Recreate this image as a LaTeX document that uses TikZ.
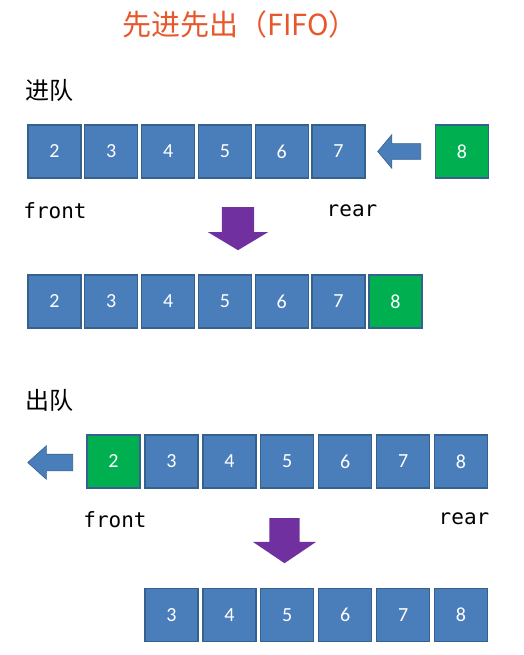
\documentclass[tikz,border=0pt]{standalone}
\usepackage{fontspec}
\setmainfont{Carlito}
\setmonofont{DejaVu Sans Mono}
\newfontfamily\cjk{Noto Sans CJK SC}
\usetikzlibrary{shapes.arrows, positioning}

\definecolor{cellblue}{HTML}{4A7EBB}
\definecolor{celledge}{HTML}{35618F}
\definecolor{cellgreen}{HTML}{00B050}
\definecolor{movepurple}{HTML}{7030A0}
\definecolor{titlered}{HTML}{E8572B}

\begin{document}
\begin{tikzpicture}[
    x=1pt, y=-1pt,
    cell/.style ={draw=celledge, line width=1.3pt, fill=cellblue,
                  minimum size=53pt, inner sep=0pt, text=white,
                  font=\fontsize{20}{20}\selectfont},
    hot/.style  ={cell, fill=cellgreen},
    push/.style ={single arrow, draw=celledge, line width=0.6pt, fill=cellblue,
                  inner xsep=0pt, rotate=180, anchor=tail},
    drop/.style ={single arrow, fill=movepurple, inner xsep=0pt, rotate=-90,
                  anchor=tail},
    tag/.style  ={font=\ttfamily\fontsize{21}{21}\selectfont, inner sep=0pt},
    heading/.style={font=\cjk\fontsize{24}{24}\selectfont, inner sep=0pt}
  ]
  \useasboundingbox (0,0) rectangle (524,655);

  % ---- title ---------------------------------------------------------
  \node[font=\cjk\fontsize{29}{29}\selectfont, text=titlered] (title)
        at (240,24) {先进先出（FIFO）};

  % ---- enqueue: before ----------------------------------------------
  \node[heading, anchor=west] (enq) at (25,90) {进队};
  \foreach \v [count=\i] in {2,...,7}
    \node[cell] (p\v) at ({54.5+(\i-1)*56.8}, 151.5) {\v};
  \node[hot] (pnew) at (462,151.5) {8};
  \node[push, minimum height=43pt, inner ysep=7.5pt,
        single arrow head extend=9pt, single arrow tip angle=100] (pin)
        at (421,151.5) {};
  \node[tag] (pfront) at (55,211) {front};
  \node[tag] (prear)  at (352,211) {rear};
  \node[drop, minimum height=43pt, inner ysep=16pt,
        single arrow head extend=14pt, single arrow tip angle=118] (pdown)
        at (238,207) {};

  % ---- enqueue: after -----------------------------------------------
  \foreach \v [count=\i] in {2,...,7}
    \node[cell] (q\v) at ({54.5+(\i-1)*56.8}, 301.5) {\v};
  \node[hot] (q8) at (395.5,301.5) {8};

  % ---- dequeue: before ----------------------------------------------
  \node[heading, anchor=west] (deq) at (25,400) {出队};
  \node[hot] (r2) at (113.5,461.5) {2};
  \foreach \v [count=\i] in {3,...,8}
    \node[cell] (r\v) at ({171.5+(\i-1)*57.9}, 461.5) {\v};
  \node[push, minimum height=45pt, inner ysep=8pt,
        single arrow head extend=8.5pt, single arrow tip angle=84] (rout)
        at (73,462.5) {};
  \node[tag] (rfront) at (115,520) {front};
  \node[tag] (rrear)  at (464,519) {rear};
  \node[drop, minimum height=45pt, inner ysep=15pt,
        single arrow head extend=16.5pt, single arrow tip angle=112] (rdown)
        at (284.5,518) {};

  % ---- dequeue: after -----------------------------------------------
  \foreach \v [count=\i] in {3,...,8}
    \node[cell] (s\v) at ({171.5+(\i-1)*57.9}, 615) {\v};

\end{tikzpicture}
\end{document}
